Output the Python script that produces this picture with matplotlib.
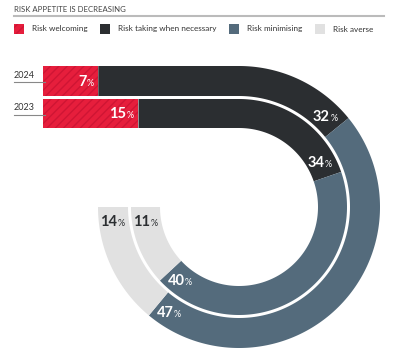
import numpy as np
import matplotlib.pyplot as plt
from matplotlib.patches import Polygon, Rectangle

plt.rcParams['font.family'] = ['Lato', 'DejaVu Sans']
plt.rcParams['hatch.linewidth'] = 1.0

years = ['2024', '2023']
categories = ['Risk welcoming', 'Risk taking when necessary', 'Risk minimising', 'Risk averse']
values_2024 = [7, 32, 47, 14]
values_2023 = [15, 34, 40, 11]

colors = ['#e61e3c', '#2b2e31', '#546b7c', '#e1e1e1']
text_colors = ['white', 'white', 'white', '#2b2e31']

# track geometry in pixel space: straight run then 270 deg clockwise arc
cx, cy = 239, 207
x0 = 43
radii = [(111, 141), (79, 108)]


def path_xy(s, r, rm):
    s = np.atleast_1d(s).astype(float)
    ls = cx - x0
    x = np.where(s <= ls, x0 + s, cx + r * np.sin((s - ls) / rm))
    y = np.where(s <= ls, cy - r, cy - r * np.cos((s - ls) / rm))
    return x, y


fig = plt.figure(figsize=(4.02, 3.63), dpi=100)
ax = fig.add_axes([0, 0, 1, 1])
ax.set_xlim(0, 402)
ax.set_ylim(363, 0)
ax.axis('off')

for vals, (ri, ro) in zip([values_2024, values_2023], radii):
    rm = (ri + ro) / 2
    total = (cx - x0) + rm * 1.5 * np.pi
    cum = np.concatenate([[0], np.cumsum(vals)]) / sum(vals) * total
    for i, v in enumerate(vals):
        ss = np.linspace(cum[i], cum[i + 1], 300)
        xo, yo = path_xy(ss, ro, rm)
        xi, yi = path_xy(ss[::-1], ri, rm)
        pts = np.column_stack([np.concatenate([xo, xi]), np.concatenate([yo, yi])])
        if i == 0:
            ax.add_patch(Polygon(pts, closed=True, facecolor=colors[i],
                                 edgecolor='#cf1534', lw=0, hatch='////'))
        else:
            ax.add_patch(Polygon(pts, closed=True, facecolor=colors[i], lw=0))
        lx, ly = path_xy(cum[i + 1] - 15, rm, rm)
        ax.text(lx[0] + 3, ly[0] + 4.5, str(v), color=text_colors[i], fontsize=10.5,
                fontweight='bold', ha='right', va='baseline')
        ax.text(lx[0] + 3.5, ly[0] + 4.5, '%', color=text_colors[i], fontsize=6.5,
                ha='left', va='baseline')

# year labels with leader lines
for yr, (ri, ro) in zip(years, radii):
    yc = cy - (ri + ro) / 2
    ax.text(14, yc - 1, yr, fontsize=6.5, color='#333333', va='bottom', ha='left')
    ax.plot([14, 45], [yc + 1, yc + 1], color='#888888', lw=0.8)

# title and rule
ax.text(14, 9, 'RISK APPETITE IS DECREASING', fontsize=5.6, color='#444444',
        va='center', ha='left')
ax.plot([14, 384], [15.5, 15.5], color='#bbbbbb', lw=1.5)

# legend
leg_x = [14, 100, 229, 315]
for i, (lab, lx) in enumerate(zip(categories, leg_x)):
    if i == 0:
        ax.add_patch(Rectangle((lx, 24), 10, 10, facecolor=colors[i],
                               edgecolor='#cf1534', lw=0, hatch='////'))
    else:
        ax.add_patch(Rectangle((lx, 24), 10, 10, facecolor=colors[i], lw=0))
    ax.text(lx + 18, 29, lab, fontsize=5.9, color='#333333', va='center', ha='left')

fig.savefig('out.png', dpi=100)
